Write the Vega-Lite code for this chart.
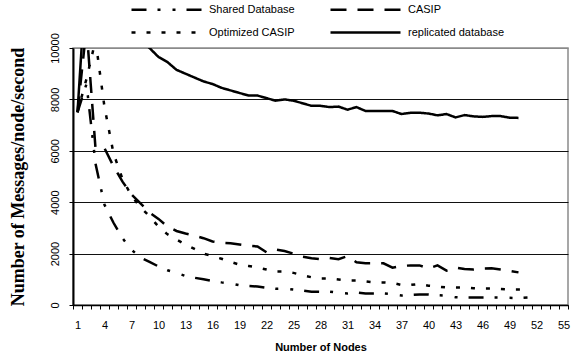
{
  "$schema": "https://vega.github.io/schema/vega-lite/v6.json",
  "width": 495,
  "height": 257,
  "autosize": "none",
  "padding": {"left": 73, "top": 48, "right": 10, "bottom": 55},
  "config": {
    "view": {"stroke": "#8a8a8a", "strokeWidth": 1.5},
    "font": "Liberation Sans"
  },
  "data": {
    "values": [
      {"n": 1, "shared": 7500, "casip": 7500, "opt": 7500, "rep": 7500},
      {"n": 2, "shared": 8600, "casip": 10800, "opt": 8800, "rep": 13000},
      {"n": 3, "shared": 5500, "casip": 6100, "opt": 10300, "rep": 12300},
      {"n": 4, "shared": 3900, "casip": 6100, "opt": 7700, "rep": 11800},
      {"n": 5, "shared": 3200, "casip": 5400, "opt": 5900, "rep": 11300},
      {"n": 6, "shared": 2600, "casip": 4800, "opt": 4900, "rep": 10900},
      {"n": 7, "shared": 2150, "casip": 4300, "opt": 4250, "rep": 10600},
      {"n": 8, "shared": 1850, "casip": 3950, "opt": 3800, "rep": 10300},
      {"n": 9, "shared": 1680, "casip": 3600, "opt": 3450, "rep": 10000},
      {"n": 10, "shared": 1500, "casip": 3350, "opt": 3050, "rep": 9650},
      {"n": 11, "shared": 1350, "casip": 3050, "opt": 2750, "rep": 9450},
      {"n": 12, "shared": 1250, "casip": 2880, "opt": 2550, "rep": 9150},
      {"n": 13, "shared": 1130, "casip": 2780, "opt": 2350, "rep": 9000},
      {"n": 14, "shared": 1060, "casip": 2700, "opt": 2180, "rep": 8850},
      {"n": 15, "shared": 1000, "casip": 2600, "opt": 2000, "rep": 8700},
      {"n": 16, "shared": 930, "casip": 2470, "opt": 1900, "rep": 8600},
      {"n": 17, "shared": 880, "casip": 2420, "opt": 1800, "rep": 8450},
      {"n": 18, "shared": 840, "casip": 2400, "opt": 1680, "rep": 8350},
      {"n": 19, "shared": 770, "casip": 2350, "opt": 1570, "rep": 8250},
      {"n": 20, "shared": 740, "casip": 2300, "opt": 1520, "rep": 8150},
      {"n": 21, "shared": 720, "casip": 2280, "opt": 1460, "rep": 8150},
      {"n": 22, "shared": 670, "casip": 2050, "opt": 1380, "rep": 8050},
      {"n": 23, "shared": 630, "casip": 2160, "opt": 1300, "rep": 7950},
      {"n": 24, "shared": 640, "casip": 2100, "opt": 1300, "rep": 8000},
      {"n": 25, "shared": 600, "casip": 2000, "opt": 1250, "rep": 7950},
      {"n": 26, "shared": 565, "casip": 1880, "opt": 1160, "rep": 7850},
      {"n": 27, "shared": 520, "casip": 1820, "opt": 1080, "rep": 7750},
      {"n": 28, "shared": 510, "casip": 1780, "opt": 1030, "rep": 7750},
      {"n": 29, "shared": 520, "casip": 1830, "opt": 1030, "rep": 7700},
      {"n": 30, "shared": 480, "casip": 1780, "opt": 990, "rep": 7720},
      {"n": 31, "shared": 450, "casip": 1900, "opt": 950, "rep": 7600},
      {"n": 32, "shared": 490, "casip": 1660, "opt": 950, "rep": 7700},
      {"n": 33, "shared": 450, "casip": 1620, "opt": 920, "rep": 7550},
      {"n": 34, "shared": 450, "casip": 1620, "opt": 880, "rep": 7550},
      {"n": 35, "shared": 450, "casip": 1620, "opt": 880, "rep": 7550},
      {"n": 36, "shared": 420, "casip": 1450, "opt": 860, "rep": 7550},
      {"n": 37, "shared": 370, "casip": 1520, "opt": 780, "rep": 7430},
      {"n": 38, "shared": 390, "casip": 1540, "opt": 780, "rep": 7480},
      {"n": 39, "shared": 410, "casip": 1540, "opt": 820, "rep": 7480},
      {"n": 40, "shared": 410, "casip": 1420, "opt": 750, "rep": 7450},
      {"n": 41, "shared": 380, "casip": 1540, "opt": 720, "rep": 7380},
      {"n": 42, "shared": 360, "casip": 1340, "opt": 680, "rep": 7430},
      {"n": 43, "shared": 300, "casip": 1460, "opt": 680, "rep": 7300},
      {"n": 44, "shared": 290, "casip": 1400, "opt": 680, "rep": 7390},
      {"n": 45, "shared": 290, "casip": 1380, "opt": 650, "rep": 7340},
      {"n": 46, "shared": 290, "casip": 1420, "opt": 640, "rep": 7320},
      {"n": 47, "shared": 290, "casip": 1430, "opt": 640, "rep": 7350},
      {"n": 48, "shared": 290, "casip": 1380, "opt": 620, "rep": 7350},
      {"n": 49, "shared": 280, "casip": 1330, "opt": 600, "rep": 7290},
      {"n": 50, "shared": 270, "casip": 1270, "opt": 600, "rep": 7280},
      {"n": 51, "shared": 290, "casip": null, "opt": 600, "rep": null}
    ]
  },
  "transform": [
    {"fold": ["shared", "casip", "opt", "rep"], "as": ["s", "v"]},
    {"filter": "datum.v != null"}
  ],
  "mark": {"type": "line", "clip": true, "strokeWidth": 2.5, "color": "black"},
  "encoding": {
    "x": {
      "field": "n",
      "type": "quantitative",
      "scale": {"domain": [0.5, 55.5], "nice": false, "zero": false},
      "axis": {
        "values": [0.5, 1.5, 2.5, 3.5, 4.5, 5.5, 6.5, 7.5, 8.5, 9.5, 10.5, 11.5, 12.5, 13.5, 14.5, 15.5, 16.5, 17.5, 18.5, 19.5, 20.5, 21.5, 22.5, 23.5, 24.5, 25.5, 26.5, 27.5, 28.5, 29.5, 30.5, 31.5, 32.5, 33.5, 34.5, 35.5, 36.5, 37.5, 38.5, 39.5, 40.5, 41.5, 42.5, 43.5, 44.5, 45.5, 46.5, 47.5, 48.5, 49.5, 50.5, 51.5, 52.5, 53.5, 54.5, 55.5],
        "labelExpr": "(datum.value - 0.5) % 3 == 0 && datum.value < 55 ? '' + (datum.value + 0.5) : ''",
        "labelOffset": 4.5,
        "labelOverlap": false,
        "labelFlush": false,
        "labelFont": "Liberation Sans",
        "labelFontSize": 11,
        "labelColor": "black",
        "labelPadding": 10,
        "grid": false,
        "domainColor": "black",
        "domainWidth": 1.5,
        "tickColor": "black",
        "tickSize": 4,
        "tickWidth": 1,
        "title": "Number of Nodes",
        "titleFont": "Liberation Sans",
        "titleFontSize": 11,
        "titleFontWeight": "bold",
        "titleColor": "black",
        "titlePadding": 11
      }
    },
    "y": {
      "field": "v",
      "type": "quantitative",
      "scale": {"domain": [0, 10000], "nice": false},
      "axis": {
        "values": [0, 2000, 4000, 6000, 8000, 10000],
        "format": "d",
        "labelAngle": -90,
        "labelAlign": "center",
        "labelBaseline": "bottom",
        "labelFont": "Liberation Sans",
        "labelFontSize": 11,
        "labelColor": "black",
        "labelPadding": 9,
        "labelFlush": false,
        "grid": true,
        "gridColor": {"condition": {"test": "datum.value == 10000", "value": "#8a8a8a"}, "value": "#111111"},
        "gridWidth": 1,
        "domainColor": "black",
        "domainWidth": 2,
        "tickColor": "black",
        "tickSize": 4,
        "title": "Number of  Messages/node/second",
        "titleFont": "Liberation Serif",
        "titleFontSize": 18,
        "titleFontWeight": "bold",
        "titleColor": "black",
        "titlePadding": 22
      }
    },
    "strokeDash": {
      "field": "s",
      "type": "nominal",
      "scale": {
        "domain": ["shared", "opt", "casip", "rep"],
        "range": [[15, 11, 3, 12, 3, 11], [4, 11], [16, 11], [1, 0]]
      },
      "legend": {
        "orient": "none",
        "legendX": 85,
        "legendY": -47,
        "columns": 2,
        "title": null,
        "labelExpr": "datum.value == 'shared' ? 'Shared Database' : datum.value == 'casip' ? 'CASIP' : datum.value == 'opt' ? 'Optimized CASIP' : 'replicated database'",
        "symbolType": "M-5,0H5",
        "symbolSize": 196,
        "symbolStrokeWidth": 2.5,
        "symbolStrokeColor": "black",
        "symbolFillColor": "transparent",
        "labelFont": "Liberation Sans",
        "labelFontSize": 11,
        "labelColor": "black",
        "labelOffset": 34,
        "columnPadding": 30,
        "rowPadding": 9
      }
    }
  }
}
